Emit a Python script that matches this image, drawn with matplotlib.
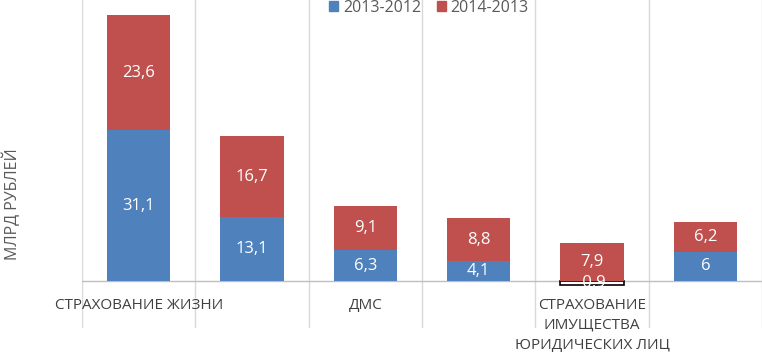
import matplotlib
matplotlib.use("Agg")
from matplotlib import pyplot as plt
import numpy as np

plt.rcParams['font.family'] = ['Open Sans', 'DejaVu Sans']

# data
categories = ["СТРАХОВАНИЕ ЖИЗНИ", "", "ДМС", "", "СТРАХОВАНИЕ\nИМУЩЕСТВА\nЮРИДИЧЕСКИХ ЛИЦ", ""]
series_names = ["2013-2012", "2014-2013"]
vals_2013 = [31.1, 13.1, 6.3, 4.1, -0.9, 6.0]
vals_2014 = [23.6, 16.7, 9.1, 8.8, 7.9, 6.2]
labels_2013 = ["31,1", "13,1", "6,3", "4,1", "-0,9", "6"]
labels_2014 = ["23,6", "16,7", "9,1", "8,8", "7,9", "6,2"]
ylabel = "МЛРД РУБЛЕЙ"

blue = "#4F81BD"
red = "#C0504D"
grid_c = "#D9D9D9"
txt_c = "#404040"

fig = plt.figure(figsize=(7.62, 3.52), dpi=100)
ax = fig.add_axes([82 / 762, 1 - 328 / 352, 680 / 762, 328 / 352])

x = np.arange(len(categories))
w = 0.56

# stacked bars (negative values go below zero, positives stack on positives)
b1 = np.array(vals_2013)
b2 = np.array(vals_2014)
bottom2 = np.where(b1 > 0, b1, 0)
for i in range(len(x)):
    if b1[i] >= 0:
        ax.bar(x[i], b1[i], w, color=blue, zorder=3)
    else:
        ax.bar(x[i], b1[i], w, color="white", edgecolor="black", linewidth=1.2, zorder=3)
ax.bar(x, b2, w, bottom=bottom2, color=red, zorder=3)

# data labels
for i in range(len(x)):
    ax.text(x[i], b1[i] / 2, labels_2013[i], ha="center", va="center",
            color="white", fontsize=12, zorder=4)
    ax.text(x[i], bottom2[i] + b2[i] / 2, labels_2014[i], ha="center", va="center",
            color="white", fontsize=12, zorder=5)

ax.set_xlim(-0.5, len(x) - 0.5)
ax.set_ylim(-9.68, 57.88)

# vertical gridlines between categories
for b in np.arange(-0.5, len(x) + 0.5, 1):
    ax.axvline(b, color=grid_c, lw=1, zorder=1)
ax.axhline(0, color="#BFBFBF", lw=1, zorder=2)

for s in ax.spines.values():
    s.set_visible(False)
ax.set_xticks([])
ax.set_yticks([])

# category labels under the baseline
for i, c in enumerate(categories):
    if c:
        ax.annotate(c, (x[i], 0), xytext=(0, -12), textcoords="offset points",
                    ha="center", va="top", fontsize=11, color=txt_c,
                    linespacing=1.45, annotation_clip=False)

fig.text(12 / 762, 1 - 204 / 352, ylabel, rotation=90, ha="center", va="center",
         fontsize=11.5, color="#595959")

handles = [plt.Rectangle((0, 0), 1, 1, color=blue), plt.Rectangle((0, 0), 1, 1, color=red)]
fig.legend(handles, series_names, loc="center", bbox_to_anchor=(0.563, 0.978),
           ncol=2, frameon=False, fontsize=11.5, handlelength=0.55, handleheight=0.55,
           handletextpad=0.3, columnspacing=1.0, labelcolor="#595959")

fig.savefig("out.png", dpi=100)
